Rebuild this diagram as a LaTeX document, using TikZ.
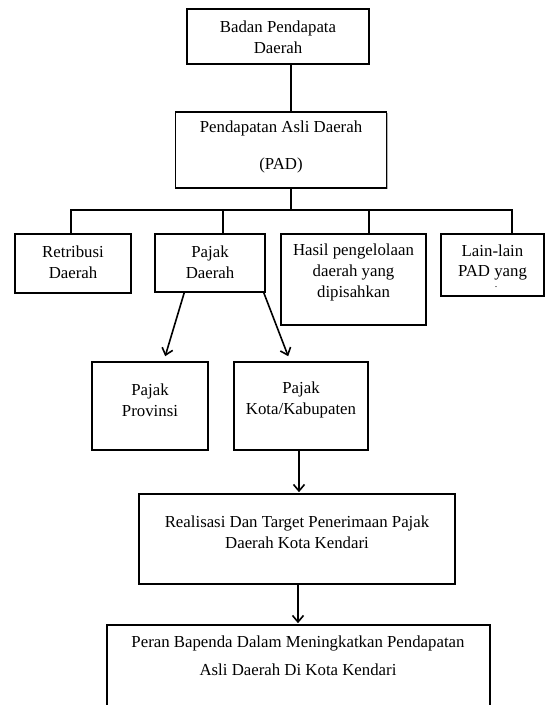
\documentclass[tikz,border=0pt]{standalone}
\usepackage{fontspec}
\setmainfont{Liberation Serif}
\usetikzlibrary{arrows.meta,shadows,calc}
\begin{document}
\begin{tikzpicture}[x=1pt,y=-1pt,
  box/.style={draw=black,line width=1.6pt,fill=white,rectangle,inner sep=0pt,
    drop shadow={shadow xshift=1.4pt,shadow yshift=-1.4pt,opacity=0.3,fill=black}},
  txt/.style={align=center,inner sep=0pt,font=\fontsize{16.8}{20.8}\selectfont},
  link/.style={line width=1.6pt},
  arr/.style={line width=1.6pt,-{Straight Barb[length=6.5pt,width=11pt]}}]
\useasboundingbox (0,0) rectangle (545,705);
% boxes
\node[box,minimum width=182pt,minimum height=55pt] (b) at (278,36.5) {};
\node[box,minimum width=211pt,minimum height=76pt] (pad) at (281,150) {};
\node[box,minimum width=116pt,minimum height=59pt] (r) at (73,263.5) {};
\node[box,minimum width=110pt,minimum height=58pt] (pd) at (210,263) {};
\node[box,minimum width=145pt,minimum height=91pt] (h) at (353.5,279.5) {};
\node[box,minimum width=103pt,minimum height=62pt] (l) at (492.5,265) {};
\node[box,minimum width=116pt,minimum height=88pt] (pp) at (150,406) {};
\node[box,minimum width=134pt,minimum height=88pt] (pk) at (301,406) {};
\node[box,minimum width=316pt,minimum height=90pt] (re) at (297,539) {};
\node[box,minimum width=383pt,minimum height=95pt] (pe) at (298.5,672.5) {};
% texts
\node[txt] (tb) at (278,37.5) {Badan Pendapata\\Daerah};
\node[txt] (tpad) at (281,147) {Pendapatan Asli Daerah\\[17pt](PAD)};
\node[txt] (tr) at (73,262.5) {Retribusi\\Daerah};
\node[txt] (tpd) at (210,262.5) {Pajak\\Daerah};
\node[txt] (th) at (353.5,272.5) {Hasil pengelolaan\\daerah yang\\dipisahkan};
\node[txt] (tl) at (492.5,262.5) {Lain-lain\\PAD yang};
\node[inner sep=0pt,font=\fontsize{10}{10}\selectfont] (ld) at (496,287) {.};
\node[txt] (tpp) at (150,400) {Pajak\\Provinsi};
\node[txt] (tpk) at (301,400) {Pajak\\Kota/Kabupaten};
\node[txt] (tre) at (297,532.5) {Realisasi Dan Target Penerimaan Pajak\\Daerah Kota Kendari};
\node[txt] (tpe) at (298,656) {Peran Bapenda Dalam Meningkatkan Pendapatan\\[7pt]Asli Daerah Di Kota Kendari};
% tree connectors
\coordinate (trunk) at (291,210);
\coordinate (d1) at (71,210);
\coordinate (d2) at (223,210);
\coordinate (d3) at (369,210);
\coordinate (d4) at (512,210);
\draw[link] (b.south -| trunk) -- (pad.north -| trunk);
\draw[link] (pad.south -| trunk) -- (trunk);
\draw[link] ([xshift=-0.8pt]d1) -- ([xshift=0.8pt]d4);
\draw[link] (d1) -- (d1 |- r.north);
\draw[link] (d2) -- (d2 |- pd.north);
\draw[link] (d3) -- (d3 |- h.north);
\draw[link] (d4) -- (d4 |- l.north);
% arrows
\draw[arr] ([xshift=30pt]pd.south west) -- ([xshift=74pt,yshift=5pt]pp.north west);
\draw[arr] ([xshift=-2pt]pd.south east) -- ([xshift=55pt,yshift=5pt]pk.north west);
\draw[arr] ([xshift=-2pt]pk.south) -- ([xshift=-2pt,yshift=1pt]pk.south |- re.north);
\draw[arr] ([xshift=1pt]re.south) -- ([xshift=1pt,yshift=1pt]re.south |- pe.north);
\end{tikzpicture}
\end{document}
